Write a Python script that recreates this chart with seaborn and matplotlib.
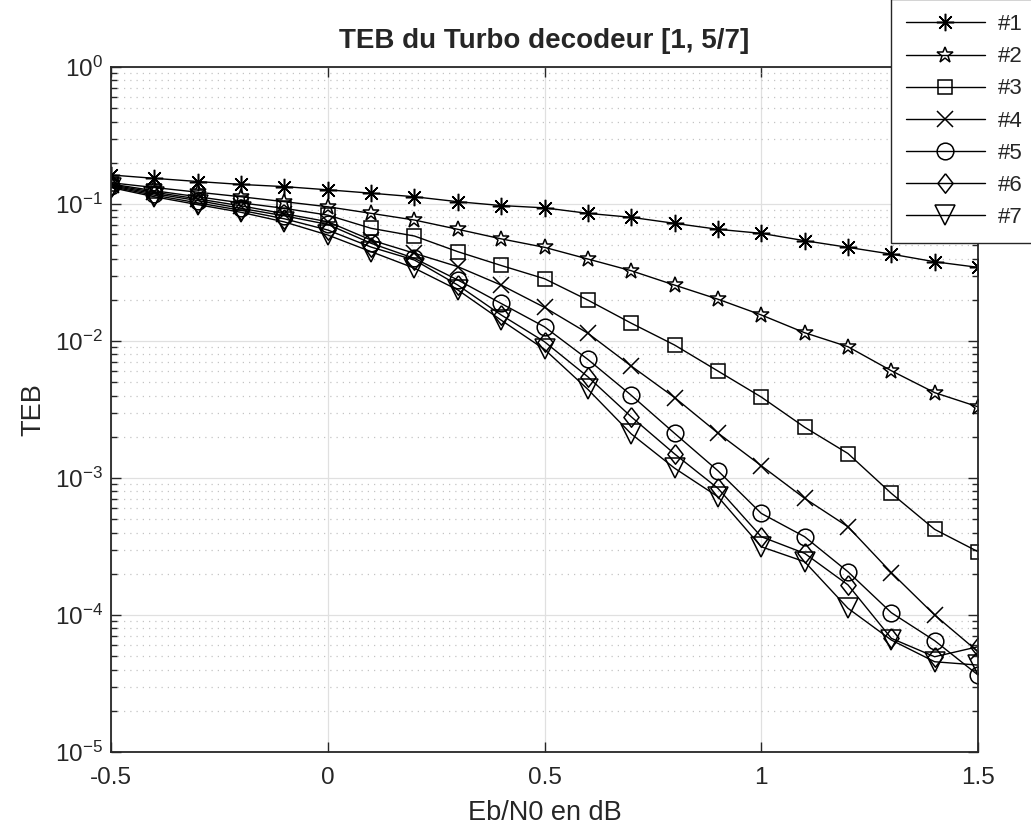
import numpy as np
import pandas as pd
import matplotlib.pyplot as plt
import seaborn as sns
from matplotlib.ticker import LogLocator, NullFormatter

# Eb/N0 (dB) and TEB per decoder iteration
ebn0 = [-0.5, -0.4, -0.3, -0.2, -0.1, 0.0, 0.1, 0.2, 0.3, 0.4, 0.5,
        0.6, 0.7, 0.8, 0.9, 1.0, 1.1, 1.2, 1.3, 1.4, 1.5]

teb_1 = [0.163, 0.154, 0.146, 0.139, 0.134, 0.127, 0.120, 0.113, 0.104, 0.0975, 0.0938,
         0.0855, 0.080, 0.0723, 0.0654, 0.0611, 0.054, 0.0483, 0.0431, 0.0379, 0.0345]
teb_2 = [0.143, 0.132, 0.122, 0.113, 0.104, 0.0955, 0.0855, 0.0764, 0.0654, 0.0557, 0.0483,
         0.0397, 0.0326, 0.0256, 0.0202, 0.0155, 0.0115, 0.00909, 0.00607, 0.0042, 0.00331]
teb_3 = [0.140, 0.125, 0.113, 0.102, 0.093, 0.083, 0.0665, 0.0584, 0.0449, 0.0356, 0.0285,
         0.0199, 0.0135, 0.00935, 0.00604, 0.0039, 0.00235, 0.00151, 0.000773, 0.000422, 0.00029]
teb_4 = [0.138, 0.122, 0.109, 0.097, 0.085, 0.0743, 0.0546, 0.0437, 0.0349, 0.0256, 0.0176,
         0.0114, 0.00657, 0.00387, 0.00213, 0.00123, 0.000711, 0.000441, 0.000204, 0.0001, 5.4e-5]
teb_5 = [0.136, 0.119, 0.106, 0.093, 0.082, 0.071, 0.0517, 0.0401, 0.0279, 0.0188, 0.0127,
         0.00734, 0.00402, 0.00212, 0.00113, 0.000552, 0.000373, 0.000207, 0.000104, 6.5e-5, 3.65e-5]
teb_6 = [0.134, 0.116, 0.102, 0.090, 0.078, 0.0646, 0.0485, 0.039, 0.0256, 0.0155, 0.00988,
         0.00548, 0.0028, 0.0015, 0.000841, 0.000373, 0.000282, 0.000166, 6.76e-5, 4.96e-5, 5.87e-5]
teb_7 = [0.132, 0.113, 0.099, 0.087, 0.074, 0.0594, 0.0449, 0.034, 0.0236, 0.0142, 0.00869,
         0.00444, 0.0021, 0.00118, 0.00073, 0.000315, 0.000245, 0.000112, 6.57e-5, 4.56e-5, 4.31e-5]

labels = ['#1', '#2', '#3', '#4', '#5', '#6', '#7']
series = [teb_1, teb_2, teb_3, teb_4, teb_5, teb_6, teb_7]

diamond = [(0, 1), (0.78, 0), (0, -1), (-0.78, 0), (0, 1)]
markers = [(8, 2, 0), '*', 's', 'x', 'o', diamond, 'v']
msizes = [12.5, 12, 10.5, 11, 12, 14, 14]

df = pd.DataFrame({
    'ebn0': ebn0 * len(series),
    'teb': np.concatenate(series),
    'iter': np.repeat(labels, len(ebn0)),
})

sns.set_style('ticks')
plt.rcParams['font.family'] = ['Liberation Sans', 'DejaVu Sans']
plt.rcParams['mathtext.fontset'] = 'custom'
plt.rcParams['mathtext.rm'] = 'Liberation Sans'
plt.rcParams['mathtext.it'] = 'Liberation Sans:italic'
plt.rcParams['axes.unicode_minus'] = False

fig = plt.figure(figsize=(10.31, 8.38), dpi=100)
ax = fig.add_axes([0.1077, 0.1026, 0.8409, 0.8174])

for lab, mk, ms in zip(labels, markers, msizes):
    sns.lineplot(data=df[df['iter'] == lab], x='ebn0', y='teb', ax=ax,
                 color='k', lw=1.0, marker=mk, markersize=ms,
                 markerfacecolor='none', markeredgecolor='k',
                 markeredgewidth=1.1, label=lab)

ax.set_yscale('log')
ax.set_xlim(-0.5, 1.5)
ax.set_ylim(1e-5, 1)
ax.set_xticks([-0.5, 0, 0.5, 1, 1.5])
ax.set_xticklabels(['-0.5', '0', '0.5', '1', '1.5'])
ax.yaxis.set_major_locator(LogLocator(base=10, numticks=10))
ax.yaxis.set_minor_locator(LogLocator(base=10, subs=np.arange(2, 10), numticks=20))
ax.yaxis.set_minor_formatter(NullFormatter())

ax.grid(which='major', color='#e0e0e0', lw=0.9)
ax.grid(which='minor', axis='y', color='#c4c4c4', lw=0.9, ls=(0, (1, 4)))
ax.set_axisbelow(True)

ax.tick_params(which='both', direction='in', top=True, right=True,
               labelsize=17.5, colors='#262626', width=1.0)
ax.tick_params(axis='x', which='major', pad=11)
ax.tick_params(axis='y', which='major', pad=6)
ax.tick_params(which='major', length=7)
ax.tick_params(which='minor', length=4)
for s in ax.spines.values():
    s.set_linewidth(1.3)
    s.set_color('#262626')

ax.set_title('TEB du Turbo decodeur [1, 5/7]', fontsize=20, fontweight='bold', pad=14)
ax.set_xlabel('Eb/N0 en dB', fontsize=19.5, color='#262626', labelpad=8)
ax.set_ylabel('TEB', fontsize=19.5, color='#262626', labelpad=6)

leg = ax.legend(loc='upper left', bbox_to_anchor=(0.864, 1.001),
                bbox_transform=fig.transFigure, fontsize=16, frameon=True,
                fancybox=False, framealpha=1, edgecolor='#262626',
                handlelength=3.55, handletextpad=0.6, labelspacing=0.5,
                borderpad=0.68, borderaxespad=0)
leg.get_frame().set_linewidth(1.0)

fig.savefig('out.png', dpi=100)
